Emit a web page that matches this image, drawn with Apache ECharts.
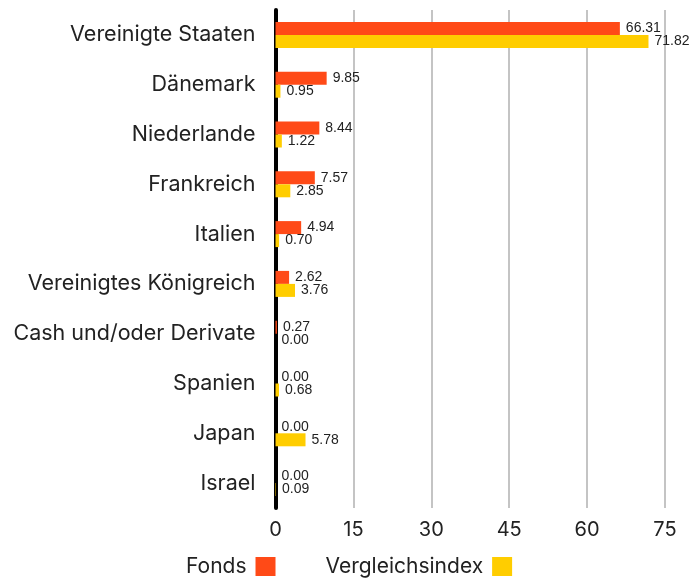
<!DOCTYPE html>
<html><head><meta charset="utf-8">
<script src="https://cdn.jsdelivr.net/npm/echarts@6/dist/echarts.min.js"></script>
<style>html,body{margin:0;padding:0;background:#fff}#c{width:700px;height:583px}</style>
</head><body><div id="c"></div>
<script>
const categories = ["Vereinigte Staaten","Dänemark","Niederlande","Frankreich","Italien","Vereinigtes Königreich","Cash und/oder Derivate","Spanien","Japan","Israel"];
const fonds = [66.31, 9.85, 8.44, 7.57, 4.94, 2.62, 0.27, 0.00, 0.00, 0.00];
const vergleich = [71.82, 0.95, 1.22, 2.85, 0.70, 3.76, 0.00, 0.68, 5.78, 0.09];
const xTicks = [0, 15, 30, 45, 60, 75];
const seriesNames = ["Fonds", "Vergleichsindex"];
const colors = ["#FF4A17", "#FFCD00"];

const chart = echarts.init(document.getElementById('c'));
const lbl = {show: true, position: 'right', distance: 6, fontFamily: 'Liberation Sans', fontSize: 14, color: '#222', formatter: p => p.value.toFixed(2)};
chart.setOption({
  animation: false,
  textStyle: {fontFamily: 'Inter'},
  grid: {left: 275.5, right: 35, top: 10, bottom: 75, containLabel: false},
  legend: {
    top: 551, left: 181, align: 'right', itemGap: 50, itemWidth: 20, itemHeight: 19,
    icon: 'rect', textStyle: {fontSize: 21, color: '#222', fontFamily: 'Inter', padding: [0, 4, 0, 0]},
    data: seriesNames
  },
  xAxis: {
    type: 'value', min: xTicks[0], max: xTicks[xTicks.length-1], interval: 15,
    axisLine: {show: false}, axisTick: {show: false},
    splitLine: {show: true, lineStyle: {color: '#c4c4c4', width: 2}},
    axisLabel: {fontSize: 20, color: '#222', margin: 12, fontFamily: 'Inter'}
  },
  yAxis: {
    type: 'category', data: categories, inverse: true,
    axisLine: {show: true, lineStyle: {color: '#000', width: 4}},
    axisTick: {show: false},
    axisLabel: {fontSize: 21.5, color: '#222', margin: 20, fontFamily: 'Inter'}
  },
  series: [
    {name: seriesNames[0], type: 'bar', data: fonds, barWidth: 13, barGap: '0%', itemStyle: {color: colors[0]}, label: lbl},
    {name: seriesNames[1], type: 'bar', data: vergleich, barWidth: 13, barGap: '0%', itemStyle: {color: colors[1]}, label: lbl}
  ]
});
</script></body></html>
